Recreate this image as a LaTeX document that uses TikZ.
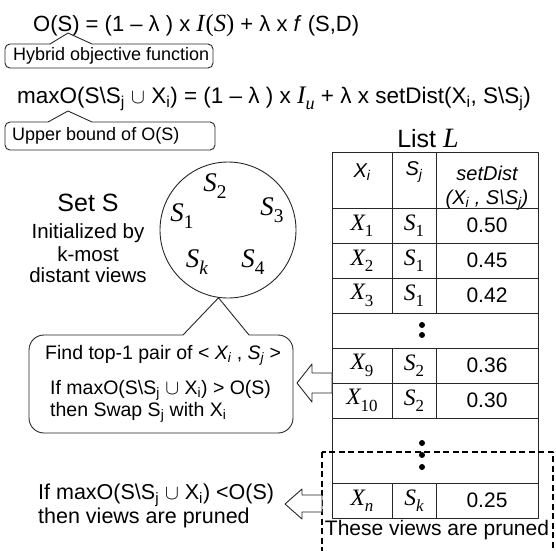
\documentclass[tikz,border=0pt]{standalone}
\usepackage[no-math]{fontspec}
\setmainfont{Liberation Sans}
\newfontfamily\mvfont{Liberation Serif}[Scale=1.12]
\newcommand\bsl{\textbackslash}
\newcommand\sub[1]{\textsubscript{#1}}
% an italic variable with a lowered, smaller index
\newcommand\mv[2]{{\mvfont\itshape #1}\raisebox{-0.3em}{\mvfont\scalebox{0.72}{#2}}}
\begin{document}
\begin{tikzpicture}[x=1pt,y=-1pt,line join=round,
  formula/.style={font=\fontsize{21}{25}\selectfont, inner sep=0, anchor=base west},
  note/.style={font=\fontsize{18}{22}\selectfont, inner sep=0, anchor=west},
  body/.style={font=\fontsize{19.5}{24}\selectfont, inner sep=0, anchor=west},
  rule/.style={font=\fontsize{21.5}{21}\selectfont, inner sep=0, anchor=west, align=left},
  title/.style={font=\fontsize{25}{30}\selectfont, inner sep=0},
  caption/.style={font=\fontsize{20.5}{24}\selectfont, inner sep=0},
  elem/.style={font=\fontsize{24}{28}\selectfont, inner sep=0},
  head/.style={font=\fontsize{20}{24}\selectfont\itshape, inner sep=0},
  cell/.style={font=\fontsize{21}{25}\selectfont, inner sep=0},
  outline/.style={draw=black!85, line width=0.9pt},
  grid/.style={draw=black!85, line width=0.9pt},
  blockarrow/.style={draw=black!85, fill=white, line width=0.9pt},
  pruned/.style={draw=black, line width=1.8pt, dash pattern=on 6pt off 3.5pt},
  dot/.style={fill=black},
]
\useasboundingbox (0,0) rectangle (556,550);

% objective and its upper bound
\node[formula, font=\fontsize{22}{26}\selectfont] (obj) at (33,31) {O(S) = (1 – λ ) x {\mvfont\itshape I\kern1pt}{\mvfont(}{\mvfont\itshape S}{\mvfont)} + λ x \textit{f} (S,D)};
\node[formula, font=\fontsize{22.5}{26}\selectfont] (ub) at (17,103) {maxO(S\bsl S\sub{j} $\cup$ X\sub{i}) = (1 – λ ) x \mv{I}{\itshape u} + λ x setDist(X\sub{i}, S\bsl S\sub{j})};

% callout: hybrid objective function
\node[note] (hof) at (13,56) {Hybrid objective function};
\draw[outline] (50,44) -- (68,33) -- (92,44);
\draw[outline, rounded corners=5] (92,44) -- (213,44) -- (213,68) -- (5,68) -- (5,44) -- (50,44);

% callout: upper bound
\node[note] (ubl) at (12,136) {Upper bound of O(S)};
\draw[outline] (48,122) -- (68,111) -- (92,122);
\draw[outline, rounded corners=5] (92,122) -- (215,122) -- (215,150) -- (5,150) -- (5,122) -- (48,122);

% the set S
\node[title] (setlbl) at (88,203) {Set S};
\node[caption] (init1) at (88,233) {Initialized by};
\node[caption] (init2) at (88,254) {k-most};
\node[caption] (init3) at (88,275) {distant views};

\node[circle, outline, minimum size=136, inner sep=0] (setS) at (228,230) {};
\node[elem] (s2) at (215,186) {\mv{S}{2}};
\node[elem] (s3) at (272,210) {\mv{S}{3}};
\node[elem] (s1) at (182,216) {\mv{S}{1}};
\node[elem] (sk) at (197,262) {\mv{S}{\itshape k}};
\node[elem] (s4) at (253,262) {\mv{S}{4}};

% swap step callout
\draw[outline] (183,335) -- (setS.262) -- (249,335);
\draw[outline, rounded corners=15] (249,335) -- (293,335) -- (293,433) -- (29,433) -- (29,335) -- (183,335);
\node[body] (find) at (45,355) {Find top-1 pair of < \textit{X\sub{i}} , \textit{S\sub{j}} >};
\node[body] (ifgt) at (50,390) {If maxO(S\bsl S\sub{j} $\cup$ X\sub{i}) > O(S)};
\node[body] (swap) at (50,412) {then Swap S\sub{j} with X\sub{i}};

% pruning step
\node[rule] (prune) at (38,506) {If maxO(S\bsl S\sub{j} $\cup$ X\sub{i}) <O(S)\\then views are pruned};

% list L
\node[title] (list) at (428,138) {List {\mvfont\itshape L}};
\draw[grid] (332,152) rectangle (538,518);
\foreach \y in {208,243,278,313,348,383,418,483}
  \draw[grid] (332,\y) -- (538,\y);
\foreach \x in {392,436} {
  \draw[grid] (\x,152) -- (\x,313);
  \draw[grid] (\x,348) -- (\x,418);
  \draw[grid] (\x,483) -- (\x,518);
}
\node[head] (hx) at (362,172) {X\sub{i}};
\node[head] (hs) at (414,172) {S\sub{j}};
\node[head] (hd1) at (487,173) {setDist};
\node[head] (hd2) at (487,200) {(X\sub{i} , S\bsl S\sub{j})};
\foreach \y/\x/\s/\v/\n in {225.5/1/1/0.50/r1, 260.5/2/1/0.45/r2, 295.5/3/1/0.42/r3,
    365.5/9/2/0.36/r9, 400.5/10/2/0.30/r10, 500.5/\itshape n/\itshape k/0.25/rn} {
  \node[cell] (x-\n) at (362,\y) {\mv{X}{\x}};
  \node[cell] (s-\n) at (414,\y) {\mv{S}{\s}};
  \node[cell] (d-\n) at (487,\y) {\v};
}
\foreach \y in {325,335,443,455,467}
  \fill[dot] (422,\y) circle (3);

% pruned region
\draw[pruned] (322,452) rectangle (553,560);
\node[cell] (prunedlbl) at (437,530) {These views are pruned};

% block arrows from the list
\draw[blockarrow] (297,383) -- (312,364) -- (312,373) -- (332,373) -- (332,393) -- (312,393) -- (312,402) -- cycle;
\draw[blockarrow] (285,504) -- (302,489) -- (302,495) -- (322,495) -- (322,512) -- (302,512) -- (302,519) -- cycle;
\end{tikzpicture}
\end{document}
